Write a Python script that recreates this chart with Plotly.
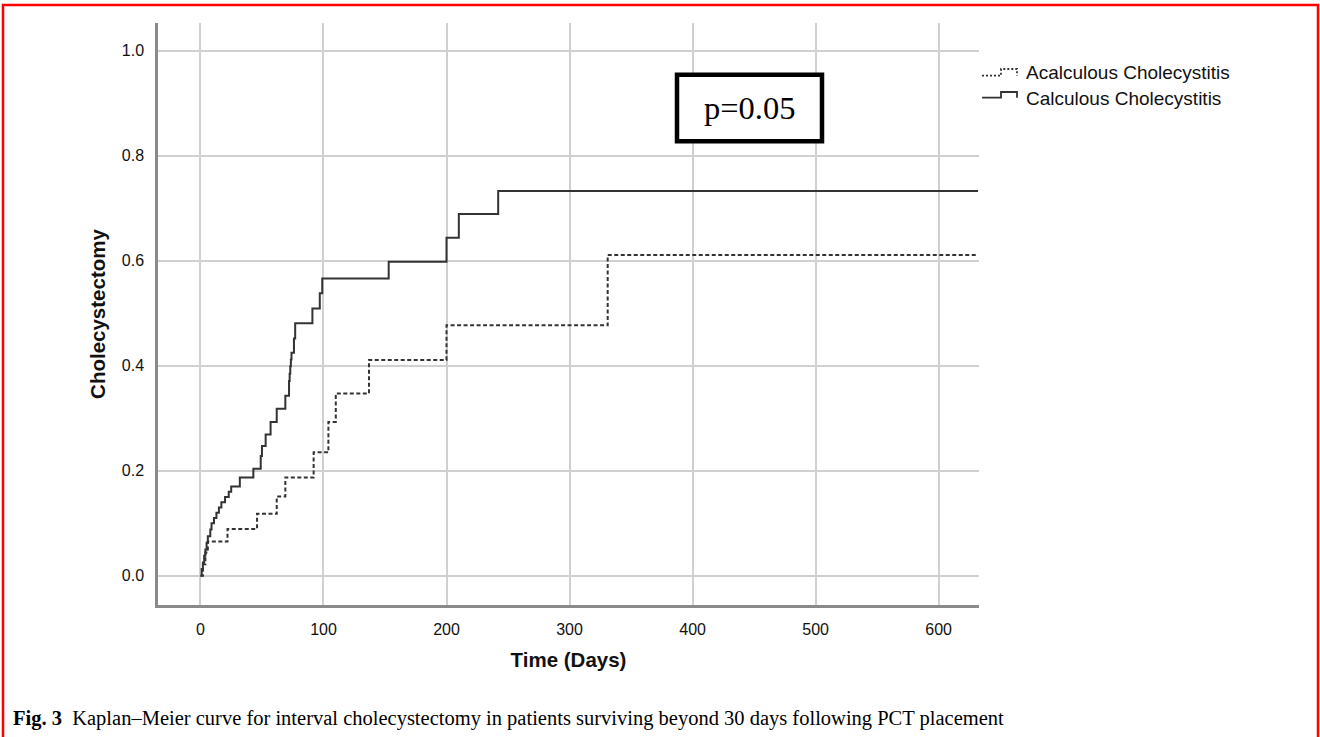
import plotly.graph_objects as go

# ---- Data ----
calc_days = [0, 1, 2, 3, 4, 5, 6, 8, 9, 11, 13, 15, 17, 20, 23, 25, 32, 43, 49, 50,
             53, 57, 62, 69, 72, 72.5, 73, 73.5, 74, 76, 77, 91, 97, 99, 153, 200, 210, 242, 632]
calc_vals = [0, 0.013, 0.025, 0.038, 0.05, 0.063, 0.075, 0.088, 0.10, 0.11, 0.12, 0.13, 0.14,
             0.15, 0.16, 0.17, 0.187, 0.204, 0.228, 0.247, 0.269, 0.293, 0.318, 0.343, 0.371,
             0.385, 0.399, 0.412, 0.425, 0.452, 0.481, 0.509, 0.538, 0.566, 0.598, 0.644,
             0.689, 0.733, 0.733]

acal_days = [0, 2, 4, 6, 22, 46, 62, 69, 92, 104, 110, 137, 200, 331, 632]
acal_vals = [0, 0.022, 0.044, 0.065, 0.089, 0.118, 0.151, 0.187, 0.235, 0.293, 0.347,
             0.411, 0.477, 0.611, 0.611]

series_names = ["Acalculous Cholecystitis", "Calculous Cholecystitis"]
x_ticks = [0, 100, 200, 300, 400, 500, 600]
y_ticks = [0.0, 0.2, 0.4, 0.6, 0.8, 1.0]
p_text = "p=0.05"
caption = ("<b>Fig. 3</b>\u00a0\u00a0Kaplan\u2013Meier curve for interval cholecystectomy "
           "in patients surviving beyond 30 days following PCT placement")

# ---- Layout geometry ----
W, H = 1320, 737
L, R, T, B = 158, 979, 23, 605


def px(x):
    return (x - L) / (R - L)


def py(y):
    return (B - y) / (B - T)


fig = go.Figure()
fig.add_trace(go.Scatter(x=acal_days, y=acal_vals, mode="lines", line_shape="hv",
                         name=series_names[0],
                         line=dict(color="#333333", width=2, dash="4px,2.5px"),
                         showlegend=False))
fig.add_trace(go.Scatter(x=calc_days, y=calc_vals, mode="lines", line_shape="hv",
                         name=series_names[1],
                         line=dict(color="#333333", width=2),
                         showlegend=False))

axis_font = dict(family="Liberation Sans, Arial", size=16, color="#111111")
title_font = dict(family="Liberation Sans, Arial", size=20.5, color="#111")
fig.update_xaxes(range=[-34.5, 632.8], tickvals=x_ticks, ticktext=[str(v) for v in x_ticks],
                 showgrid=True, gridcolor="#d0d0d0", gridwidth=1.6, zeroline=False,
                 showline=True, linecolor="#8a8a8a", linewidth=2.5, ticks="",
                 ticklabelstandoff=8, tickfont=axis_font,
                 title=dict(text="<b>Time (Days)</b>", font=title_font, standoff=16))
fig.update_yaxes(range=[-0.0558, 1.053], tickvals=y_ticks,
                 ticktext=[f"{v:.1f}" for v in y_ticks],
                 showgrid=True, gridcolor="#d0d0d0", gridwidth=1.6, zeroline=False,
                 showline=True, linecolor="#8a8a8a", linewidth=2.5, ticks="",
                 ticklabelstandoff=8, tickfont=axis_font,
                 title=dict(text="<b>Cholecystectomy</b>", font=title_font, standoff=11))

shapes = []
# red outer frame
shapes.append(dict(type="rect", xref="paper", yref="paper",
                   x0=px(3), x1=px(1318), y0=py(760), y1=py(5),
                   line=dict(color="#ff0000", width=2.5), fillcolor="rgba(0,0,0,0)", layer="above"))
# p-value box
shapes.append(dict(type="rect", xref="paper", yref="paper",
                   x0=px(677), x1=px(822), y0=py(141.3), y1=py(74.7),
                   line=dict(color="black", width=4.5), fillcolor="white", layer="above"))


def step_icon(x0, xm, x1, ylow, yhigh):
    return (f"M {px(x0)} {py(ylow)} L {px(xm)} {py(ylow)} L {px(xm)} {py(yhigh)} "
            f"L {px(x1)} {py(yhigh)} L {px(x1)} {py(ylow)}")


shapes.append(dict(type="path", xref="paper", yref="paper",
                   path=step_icon(982, 1001, 1017, 75.7, 69),
                   line=dict(color="#333333", width=1.8, dash="2px,2px")))
shapes.append(dict(type="path", xref="paper", yref="paper",
                   path=step_icon(982, 1001, 1017, 97.7, 92),
                   line=dict(color="#333333", width=1.8)))

annotations = [
    dict(text=p_text, xref="paper", yref="paper", x=px(749.5), y=py(108),
         xanchor="center", yanchor="middle", showarrow=False,
         font=dict(family="Liberation Serif, DejaVu Serif", size=32.5, color="black")),
    dict(text=series_names[0], xref="paper", yref="paper", x=px(1024), y=py(72.5),
         xanchor="left", yanchor="middle", showarrow=False,
         font=dict(family="Liberation Sans, Arial", size=19, color="#111")),
    dict(text=series_names[1], xref="paper", yref="paper", x=px(1024), y=py(98.5),
         xanchor="left", yanchor="middle", showarrow=False,
         font=dict(family="Liberation Sans, Arial", size=19, color="#111")),
    dict(text=caption, xref="paper", yref="paper", x=px(11), y=py(718),
         xanchor="left", yanchor="middle", showarrow=False,
         font=dict(family="Liberation Serif, Times New Roman", size=20.5, color="black")),
]

fig.update_layout(width=W, height=H, margin=dict(l=L, r=W - R, t=T, b=H - B),
                  paper_bgcolor="white", plot_bgcolor="white",
                  shapes=shapes, annotations=annotations, showlegend=False)

fig.write_html("out.html", config={"displayModeBar": False},
               post_script="document.body.style.margin='0';document.body.style.overflow='hidden';")
